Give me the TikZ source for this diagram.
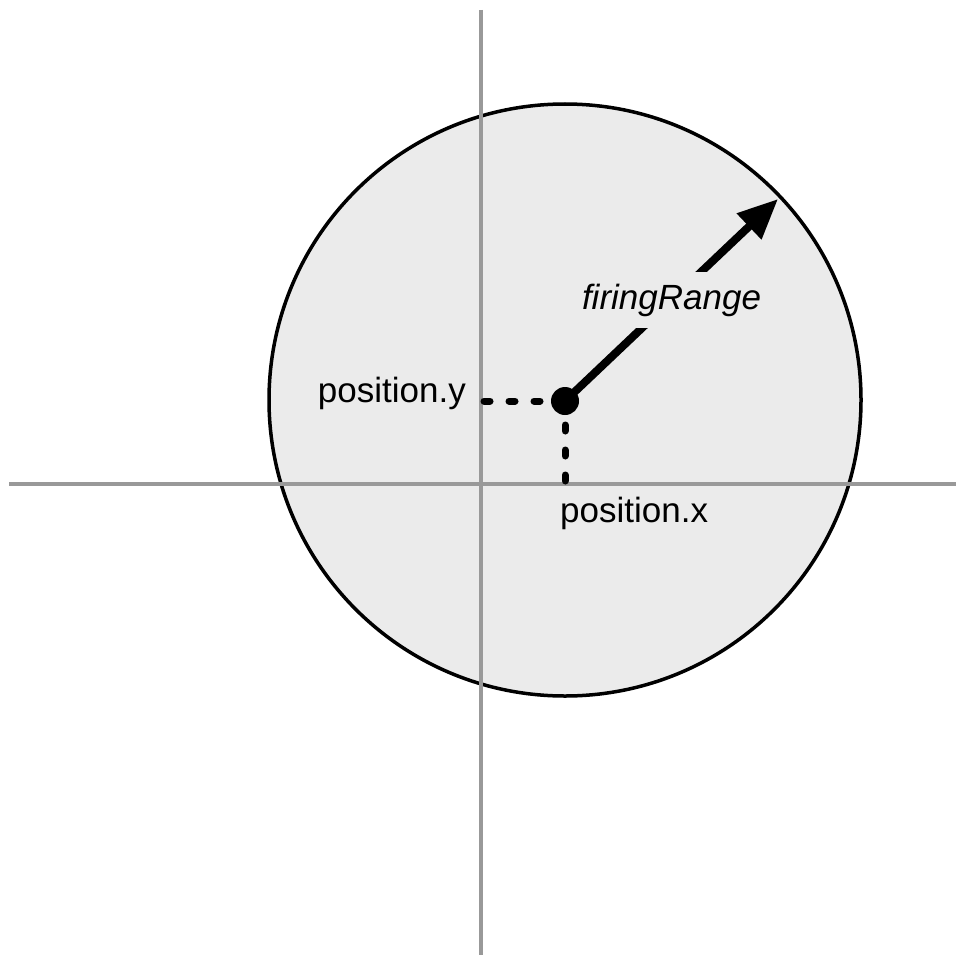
\documentclass[tikz,border=0pt]{standalone}
\usepackage{fontspec}
\setmainfont{Liberation Sans}
\usetikzlibrary{arrows.meta}
\definecolor{bgray}{HTML}{EBEBEB}
\definecolor{axgray}{HTML}{999999}
\tikzset{
  axis/.style={draw=axgray, line width=3.5},
  dotline/.style={line width=7, line cap=round, dash pattern=on 6 off 19},
  lbl/.style={inner sep=0pt, font=\fontsize{35}{40}\selectfont},
}
\begin{document}
\begin{tikzpicture}[x=1pt,y=-1pt]
\useasboundingbox (0,0) rectangle (963,963);
% range circle
\filldraw[fill=bgray, draw=black, line width=3.5] (565,400) circle (296);
% axes
\coordinate (vt) at (481,10);
\coordinate (vb) at (481,955);
\coordinate (hl) at (9,484);
\coordinate (hr) at (956,484);
\draw[axis] (vt) -- (vb);
\draw[axis] (hl) -- (hr);
% position
\coordinate (O) at (565,401);
\coordinate (Ay) at (484,401);
\coordinate (Ax) at (565,481);
\coordinate (tip) at (778,199);
\draw[dotline] (Ay) -- (O);
\draw[dotline] (Ax) -- (O);
\draw[line width=8, -{Triangle[length=40pt,width=34pt]}] (O) -- (tip)
  node[midway, fill=bgray, inner xsep=6pt, inner ysep=12pt, font=\fontsize{35}{40}\selectfont\itshape] (fr) {firingRange};
\node[circle, fill=black, minimum size=28, inner sep=0] (P) at (O) {};
% labels
\node[lbl, anchor=base east] (py) at (466,402) {position.y};
\node[lbl, anchor=base west] (px) at (560,522) {position.x};
\end{tikzpicture}
\end{document}
